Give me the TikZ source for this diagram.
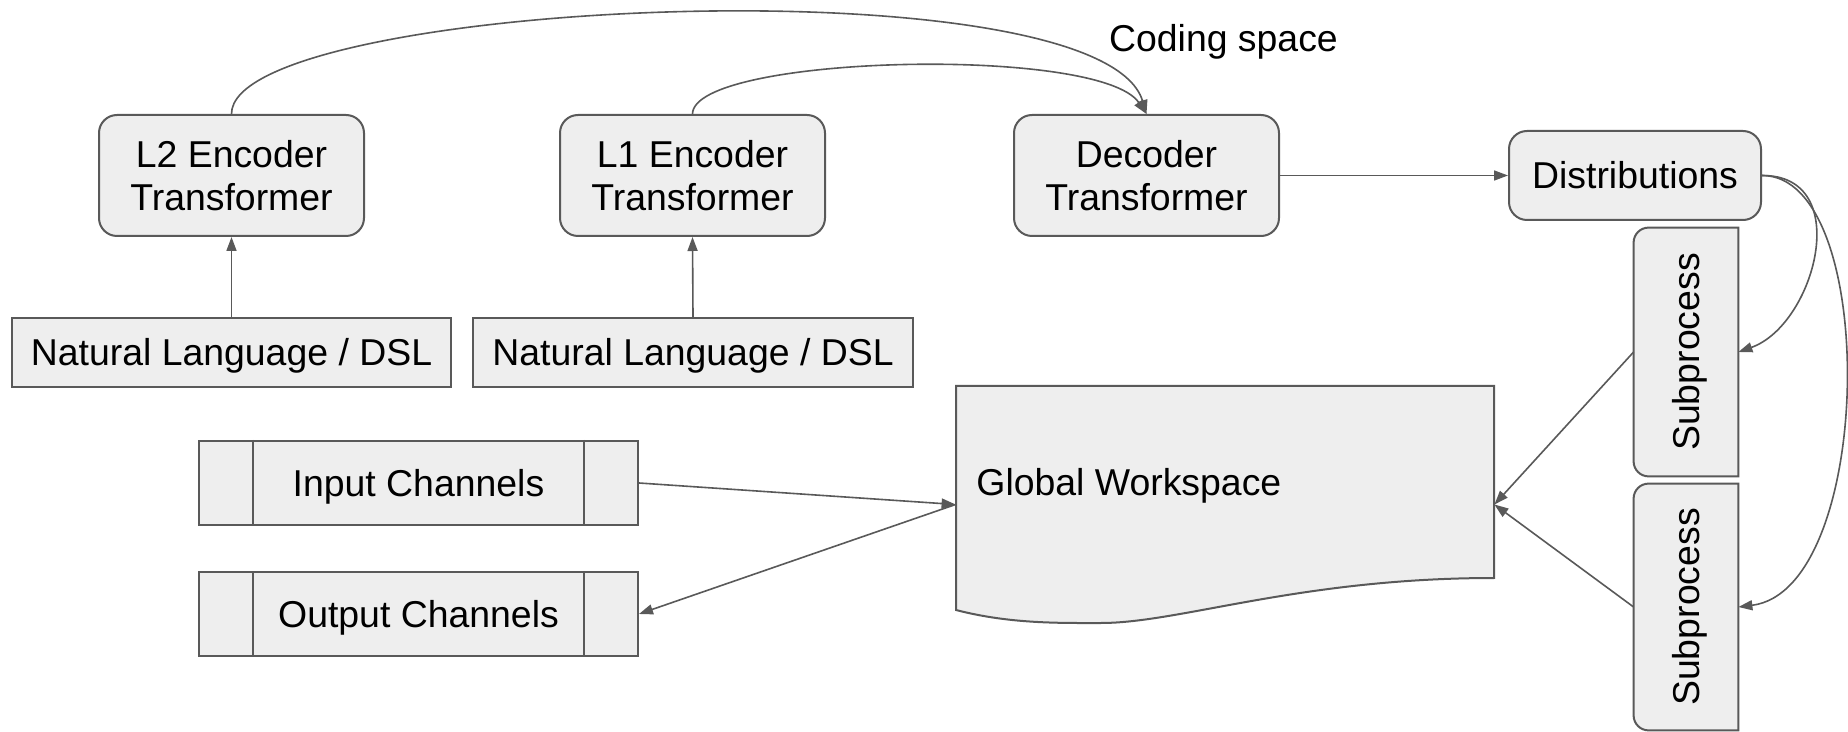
\documentclass[tikz,border=0pt]{standalone}
\usepackage{fontspec}
\setmainfont{Liberation Sans}
\usetikzlibrary{arrows.meta,calc}
\pgfdeclarelayer{background}
\pgfsetlayers{background,main}
\definecolor{edge}{HTML}{595959}
\definecolor{boxfill}{HTML}{EEEEEE}
\tikzset{
  lbl/.style={font=\fontsize{18.7pt}{21.5pt}\selectfont, text=black, align=center, inner sep=0pt},
  boxbase/.style={lbl, draw=edge, fill=boxfill, line width=1pt},
  oneline/.style={text height=13.5pt, text depth=0pt},
  roundbox/.style={boxbase, rounded corners=9pt, minimum width=132.5pt, minimum height=60.5pt},
  plainbox/.style={boxbase, oneline, minimum width=219.5pt, minimum height=34.5pt},
  chanbox/.style={boxbase, oneline, minimum width=219.5pt, minimum height=42pt},
  ghost/.style={lbl, draw=none, fill=none},
  outline/.style={draw=edge, fill=boxfill, line width=1pt},
  conn/.style={draw=edge, line width=0.8pt, -{Triangle[length=7pt,width=5pt]}},
}
\newcommand{\uptext}[1]{\rotatebox{90}{\raisebox{0pt}[\height][0pt]{#1}}}
\begin{document}
\begin{tikzpicture}[x=0.5pt,y=-0.5pt]
\begin{pgfonlayer}{background}
\fill[white] (0,0) rectangle (1848,732);
\end{pgfonlayer}
\useasboundingbox (0,0) rectangle (1848,732);

% encoders, decoder, output distributions
\node[roundbox] (l2) at (231.5,175.5) {L2 Encoder\\Transformer};
\node[roundbox] (l1) at (692.5,175.5) {L1 Encoder\\Transformer};
\node[roundbox] (dec) at (1146.5,175.5) {Decoder\\Transformer};
\node[roundbox, minimum width=126pt, minimum height=44.5pt] (dist) at (1635,175.5) {Distributions};
\node[lbl, anchor=base] (coding) at (1223.5,52) {Coding space};

% language inputs
\node[plainbox] (nl2) at (231.5,352.5) {Natural Language / DSL};
\node[plainbox, minimum width=220pt] (nl1) at (693,352.5) {Natural Language / DSL};

% channels
\node[chanbox] (inch) at (418.5,483) {Input Channels};
\node[chanbox] (outch) at (418.5,614) {Output Channels};
\foreach \c in {inch,outch}{
  \draw[edge, line width=1pt] ([xshift=27.5pt]\c.north west) -- ([xshift=27.5pt]\c.south west);
  \draw[edge, line width=1pt] ([xshift=-27.5pt]\c.north east) -- ([xshift=-27.5pt]\c.south east);
}

% global workspace (document shape)
\node[ghost, minimum width=269pt, minimum height=118.5pt] (gw) at (1225,504.5) {};
\node[lbl, anchor=base west] (gwtext) at (976,496) {Global Workspace};
\begin{pgfonlayer}{background}
\draw[outline] (956,386) -- (1494,386) -- (1494,578)
  .. controls (1300,578) and (1180,623) .. (1101,623)
  .. controls (1060,623) and (1010,624) .. (956,610) -- cycle;
\end{pgfonlayer}

% subprocesses (left corners rounded)
\node[ghost, minimum width=52pt, minimum height=124pt] (s1) at (1686,352) {\uptext{Subprocess}};
\node[ghost, minimum width=52pt, minimum height=123pt] (s2) at (1686,607) {\uptext{Subprocess}};
\begin{pgfonlayer}{background}
\foreach \s in {s1,s2}{
  \draw[outline] (\s.south east) -- (\s.north east) -- ([xshift=7.5pt]\s.north west)
    arc[start angle=270,end angle=180,radius=15]
    -- ([yshift=7.5pt]\s.south west)
    arc[start angle=180,end angle=90,radius=15] -- cycle;
}
\end{pgfonlayer}

% connectors
\draw[conn] (nl2.north) -- (l2.south);
\draw[conn] (nl1.north) -- (l1.south);
\draw[conn] (l2.north) .. controls (231,0) and (1100,-40) .. (dec.north);
\draw[conn] (l1.north) .. controls (693,55) and (1100,45) .. (dec.north);
\draw[conn] (dec.east) -- (dist.west);
\draw[conn] (dist.east) .. controls (1855,175) and (1815,325) .. (s1.east);
\draw[conn] (dist.east) .. controls (1880,175) and (1875,590) .. (s2.east);
\draw[conn] (s1.west) -- (gw.east);
\draw[conn] (s2.west) -- (gw.east);
\draw[conn] (inch.east) -- (gw.west);
\draw[conn] (gw.west) -- (outch.east);
\end{tikzpicture}
\end{document}
